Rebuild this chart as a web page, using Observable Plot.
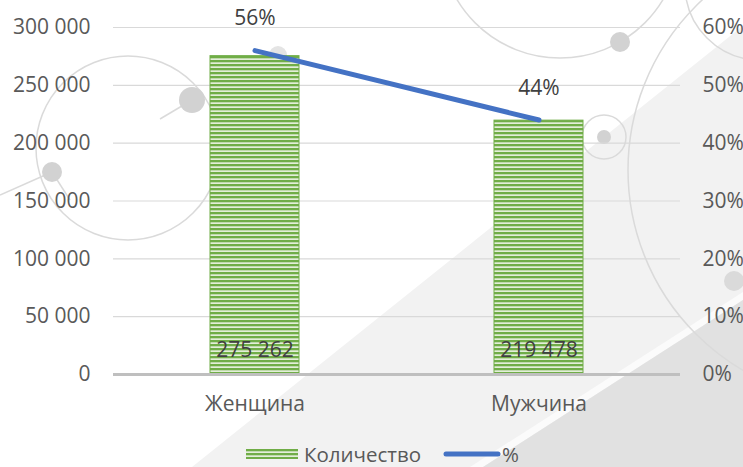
<!DOCTYPE html>
<html><head><meta charset="utf-8">
<script src="https://cdn.jsdelivr.net/npm/d3@7"></script>
<script src="https://cdn.jsdelivr.net/npm/@observablehq/plot@0.6"></script>
<style>
body{margin:0;background:#fff;}
#wrap{position:relative;width:743px;height:467px;overflow:hidden;font-family:"Open Sans",sans-serif;}
#bg{position:absolute;left:0;top:0;}
#chart{position:absolute;left:0;top:0;}
#legend{position:absolute;left:0;top:440px;width:743px;height:27px;font-size:20.5px;color:#595959;}
#legend .item{position:absolute;top:0;height:27px;display:flex;align-items:center;}
</style>
</head><body>
<div id="wrap">
<svg id="bg" width="743" height="467">
  <defs>
    <pattern id="stripes" patternUnits="userSpaceOnUse" width="8" height="4">
      <rect x="0" y="0" width="8" height="4" fill="#e3eed9"/>
      <rect x="0" y="0" width="8" height="2.3" fill="#70ad47"/>
    </pattern>
  </defs>
  <polygon points="192,467 775,0 743,0 743,467" fill="#f2f2f2"/>
  <polygon points="470,467 743,292 743,300 483,467" fill="#fbfbfb"/>
  <polygon points="483,467 743,300 743,467" fill="#e1e1e1"/>
  <g fill="none" stroke="#dadada" stroke-width="1.5">
    <circle cx="128" cy="148" r="92"/>
    <circle cx="560" cy="-62" r="120"/>
    <circle cx="760" cy="-15" r="75"/>
    <circle cx="860" cy="170" r="232"/>
    <circle cx="604" cy="137" r="22"/>
    <line x1="160" y1="119" x2="192" y2="100"/>
    <line x1="0" y1="195" x2="52" y2="172"/>
    <line x1="52" y1="172" x2="70" y2="200"/>
  </g>
  <g fill="#d2d2d2">
    <circle cx="192" cy="100" r="13"/>
    <circle cx="52" cy="172" r="10"/>
    <circle cx="278" cy="55" r="9" fill="#e4e4e4"/>
    <circle cx="620" cy="42" r="10"/>
    <circle cx="604" cy="137" r="7"/>
    <circle cx="734" cy="281" r="10" fill="#dadada"/>
  </g>
</svg>
<div id="chart"></div>
<div id="legend">
  <div class="item" style="left:246px;">
    <svg width="52" height="10" style="display:block"><rect x="0" y="0" width="52" height="10" fill="url(#stripes)"/></svg>
    <span style="margin-left:6px;">Количество</span>
  </div>
  <div class="item" style="left:443px;">
    <svg width="58" height="10" style="display:block"><line x1="3" y1="5" x2="55" y2="5" stroke="#4472c4" stroke-width="5" stroke-linecap="round"/></svg>
    <span style="margin-left:1px;">%</span>
  </div>
</div>
</div>
<script>
const categories = ["Женщина", "Мужчина"];
const counts = [275262, 219478];
const shares = [0.56, 0.44];
const countTicks = [0, 50000, 100000, 150000, 200000, 250000, 300000];
const pctTicks = [0, 0.1, 0.2, 0.3, 0.4, 0.5, 0.6];

const ratio = countTicks[countTicks.length - 1] / pctTicks[pctTicks.length - 1];
const data = categories.map((c, i) => ({category: c, count: counts[i], share: shares[i]}));
const fmtNum = d => d3.format(",")(d).replace(/,/g, " ");
const fmtPct = p => Math.round(p * 100) + "%";

const chart = Plot.plot({
  width: 743,
  height: 440,
  marginTop: 27,
  marginBottom: 66,
  marginLeft: 113,
  marginRight: 63,
  style: {background: "transparent", fontFamily: "Open Sans, sans-serif", fontSize: "21px", color: "#595959", overflow: "visible"},
  x: {domain: categories, paddingInner: 0.687, paddingOuter: 0.34},
  y: {domain: [0, 300000]},
  marks: [
    Plot.gridY(countTicks, {stroke: "#d9d9d9", strokeOpacity: 1, strokeWidth: 1.2}),
    Plot.barY(data, {x: "category", y: "count", fill: "url(#stripes)", stroke: "#70ad47", strokeWidth: 1}),
    Plot.ruleY([0], {stroke: "#bfbfbf", strokeWidth: 3}),
    Plot.lineY(data, {x: "category", y: d => d.share * ratio, stroke: "#4472c4", strokeWidth: 5, strokeLinecap: "round"}),
    Plot.text(data, {x: "category", y: d => d.share * ratio, text: d => fmtPct(d.share), dy: -32, fill: "#404040"}),
    Plot.text(data, {x: "category", y: d => 0, text: d => fmtNum(d.count), dy: -24, fill: "#404040"}),
    Plot.axisY(countTicks, {anchor: "left", tickSize: 0, tickPadding: 23, tickFormat: fmtNum, label: null, fill: "#595959"}),
    Plot.axisY(pctTicks.map(p => p * ratio), {anchor: "right", tickSize: 0, tickPadding: 22, tickFormat: v => fmtPct(v / ratio), label: null, fill: "#595959"}),
    Plot.axisX({tickSize: 0, tickPadding: 22, label: null, fill: "#595959"})
  ]
});
document.getElementById("chart").appendChild(chart);
</script>
</body></html>
